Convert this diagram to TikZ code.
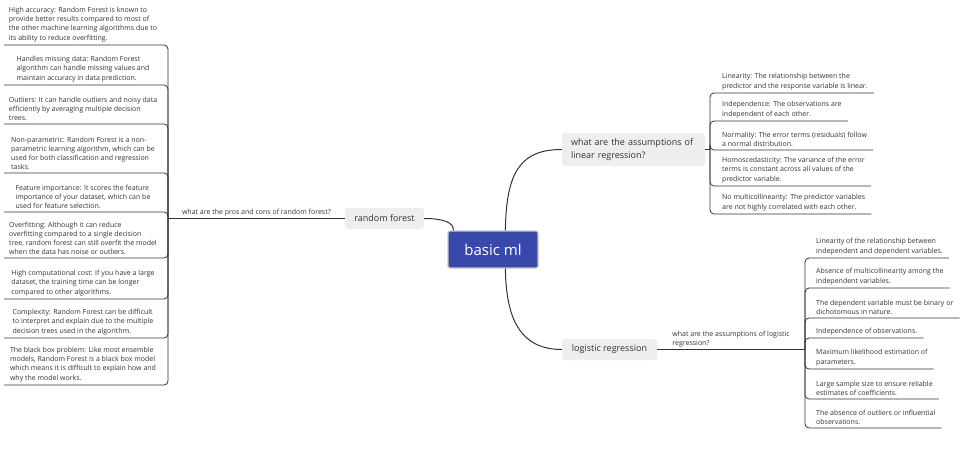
\documentclass[tikz,border=0pt]{standalone}
\usepackage{fontspec}
\setmainfont{Open Sans}
\usetikzlibrary{positioning}
\definecolor{rootblue}{HTML}{3949AB}
\definecolor{rootrim}{HTML}{C4C4C4}
\definecolor{topicgray}{HTML}{EEEEEE}
\definecolor{inkgray}{HTML}{333333}
\newcommand{\leaffont}{\fontsize{7}{9.2}\selectfont}
\tikzset{
  root/.style={fill=rootblue, draw=rootrim, line width=1.2pt, rounded corners=2pt,
    text=white, font=\fontsize{15}{17}\selectfont, minimum width=90pt, minimum height=37pt},
  topic/.style={fill=topicgray, rounded corners=3pt, text=inkgray,
    font=\fontsize{9}{12.5}\selectfont, inner sep=0pt},
  leafleft/.style={anchor=south, align=left, inner xsep=0pt, inner ysep=3pt,
    font=\leaffont, text=inkgray},
  leafright/.style={anchor=south west, align=left, inner xsep=6pt, inner ysep=3pt,
    font=\leaffont, text=inkgray},
  twig/.style={draw=inkgray, line width=0.8pt, rounded corners=4pt},
  limb/.style={draw=inkgray, line width=1pt},
  asklabel/.style={font=\leaffont, text=inkgray, align=left, inner sep=1.5pt}
}

\begin{document}
\begin{tikzpicture}[x=1pt,y=-1pt]
\useasboundingbox (0,0) rectangle (969,463);
% main topics
\node[root] (basic) at (493,249.5) {basic ml};
\node[topic, minimum width=79pt, minimum height=21pt] (forest) at (384.5,218.5) {random forest};
\node[topic, minimum width=143pt, minimum height=33pt, align=left, text width=125pt] (linreg) at (633.5,149.5)
  {what are the assumptions of\\linear regression?};
\node[topic, minimum width=95pt, minimum height=21pt] (logreg) at (609.5,349.5) {logistic regression};
% junctions on the spines
\coordinate (jforest) at (168,218.5);
\coordinate (fedge) at (4,0);
\coordinate (jlin) at (710,149.5);
\coordinate (jlog) at (805,349.5);
\draw[limb] (forest.east) .. controls (442,218.5) and (454,222) .. ([xshift=6pt]basic.north west);
\draw[limb] ([xshift=58pt]basic.north west) .. controls (506,170) and (522,149.5) .. (linreg.west);
\draw[limb] ([xshift=58pt]basic.south west) .. controls (506,315) and (518,349.5) .. (logreg.west);
\draw[limb] (forest.west) -- (jforest) node[asklabel, midway, above] {what are the pros and cons of random forest?};
\draw[limb] (linreg.east) -- (jlin);
\draw[limb] (logreg.east) -- (jlog) node[asklabel, midway, above] {what are the assumptions of logistic\\regression?};

% random forest leaves
\node[leafleft] (acc) at (83,45) {High accuracy: Random Forest is known to\\provide better results compared to most of\\the other machine learning algorithms due to\\its ability to reduce overfitting.};
\node[leafleft] (missing) at (83,85) {Handles missing data: Random Forest\\algorithm can handle missing values and\\maintain accuracy in data prediction.};
\node[leafleft] (outliers) at (83,124) {Outliers: It can handle outliers and noisy data\\efficiently by averaging multiple decision\\trees.};
\node[leafleft] (nonpar) at (83,173) {Non-parametric: Random Forest is a non-\\parametric learning algorithm, which can be\\used for both classification and regression\\tasks.};
\node[leafleft] (feature) at (83,212) {Feature importance: It scores the feature\\importance of your dataset, which can be\\used for feature selection.};
\node[leafleft] (overfit) at (83,258) {Overfitting: Although it can reduce\\overfitting compared to a single decision\\tree, random forest can still overfit the model\\when the data has noise or outliers.};
\node[leafleft] (cost) at (83,299) {High computational cost: If you have a large\\dataset, the training time can be longer\\compared to other algorithms.};
\node[leafleft] (complex) at (83,338) {Complexity: Random Forest can be difficult\\to interpret and explain due to the multiple\\decision trees used in the algorithm.};
\node[leafleft] (blackbox) at (83,385) {The black box problem: Like most ensemble\\models, Random Forest is a black box model\\which means it is difficult to explain how and\\why the model works.};
\draw[twig] (jforest) -- (acc.south -| jforest) -- (acc.south -| fedge);
\draw[twig] (jforest) -- (missing.south -| jforest) -- (missing.south -| fedge);
\draw[twig] (jforest) -- (outliers.south -| jforest) -- (outliers.south -| fedge);
\draw[twig] (jforest) -- (nonpar.south -| jforest) -- (nonpar.south -| fedge);
\draw[twig] (jforest) -- (feature.south -| jforest) -- (feature.south -| fedge);
\draw[twig] (jforest) -- (overfit.south -| jforest) -- (overfit.south -| fedge);
\draw[twig] (jforest) -- (cost.south -| jforest) -- (cost.south -| fedge);
\draw[twig] (jforest) -- (complex.south -| jforest) -- (complex.south -| fedge);
\draw[twig] (jforest) -- (blackbox.south -| jforest) -- (blackbox.south -| fedge);

% linear regression leaves
\node[leafright] (lin1) at (716,93) {Linearity: The relationship between the\\predictor and the response variable is linear.};
\node[leafright] (lin2) at (716,121) {Independence: The observations are\\independent of each other.};
\node[leafright] (lin3) at (716,150) {Normality: The error terms (residuals) follow\\a normal distribution.};
\node[leafright] (lin4) at (716,186) {Homoscedasticity: The variance of the error\\terms is constant across all values of the\\predictor variable.};
\node[leafright] (lin5) at (716,214) {No multicollinearity: The predictor variables\\are not highly correlated with each other.};
\draw[twig] (jlin) -- (lin1.south -| jlin) -- (lin1.south east);
\draw[twig] (jlin) -- (lin2.south -| jlin) -- (lin2.south east);
\draw[twig] (jlin) -- (lin3.south -| jlin) -- (lin3.south east);
\draw[twig] (jlin) -- (lin4.south -| jlin) -- (lin4.south east);
\draw[twig] (jlin) -- (lin5.south -| jlin) -- (lin5.south east);

% logistic regression leaves
\node[leafright] (log1) at (810,258) {Linearity of the relationship between\\independent and dependent variables.};
\node[leafright] (log2) at (810,288) {Absence of multicollinearity among the\\independent variables.};
\node[leafright] (log3) at (810,318) {The dependent variable must be binary or\\dichotomous in nature.};
\node[leafright] (log4) at (810,338) {Independence of observations.};
\node[leafright] (log5) at (810,369) {Maximum likelihood estimation of\\parameters.};
\node[leafright] (log6) at (810,399) {Large sample size to ensure reliable\\estimates of coefficients.};
\node[leafright] (log7) at (810,428) {The absence of outliers or influential\\observations.};
\draw[twig] (jlog) -- (log1.south -| jlog) -- (log1.south east);
\draw[twig] (jlog) -- (log2.south -| jlog) -- (log2.south east);
\draw[twig] (jlog) -- (log3.south -| jlog) -- (log3.south east);
\draw[twig] (jlog) -- (log4.south -| jlog) -- (log4.south east);
\draw[twig] (jlog) -- (log5.south -| jlog) -- (log5.south east);
\draw[twig] (jlog) -- (log6.south -| jlog) -- (log6.south east);
\draw[twig] (jlog) -- (log7.south -| jlog) -- (log7.south east);
\end{tikzpicture}
\end{document}
